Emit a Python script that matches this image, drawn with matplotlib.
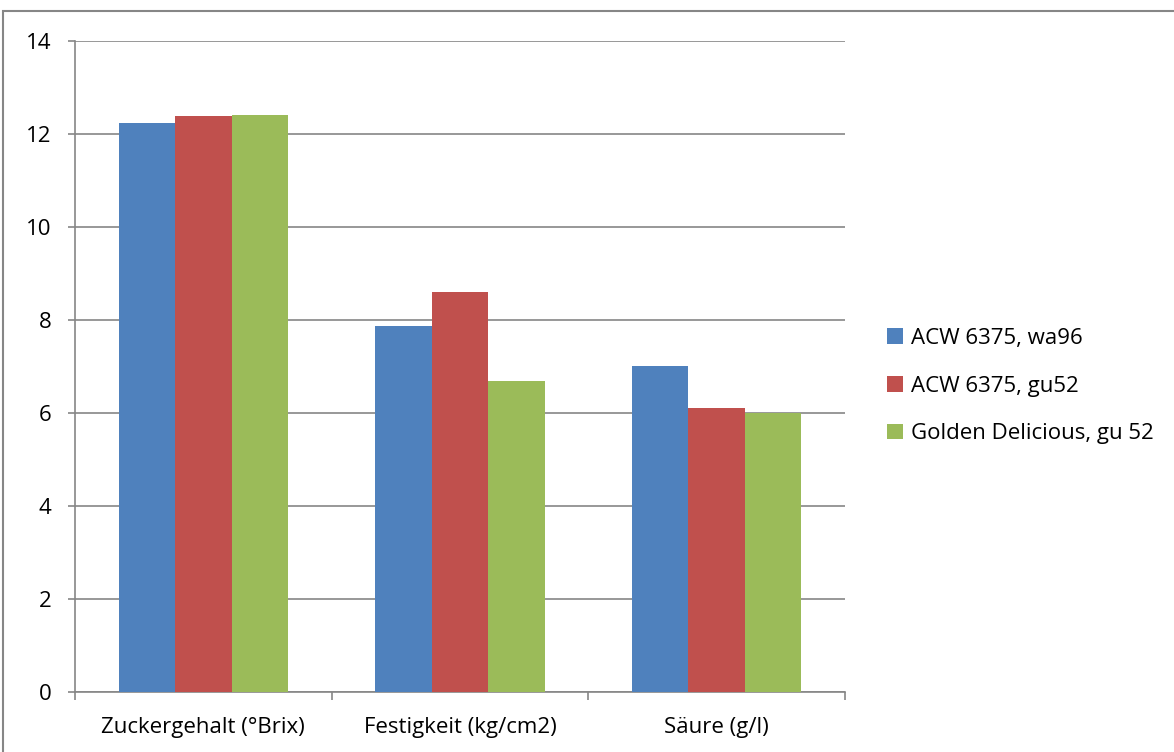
import numpy as np
import matplotlib.pyplot as plt
from matplotlib.patches import Rectangle

plt.rcParams['font.family'] = ['Open Sans', 'DejaVu Sans']

categories = ['Zuckergehalt (°Brix)', 'Festigkeit (kg/cm2)', 'Säure (g/l)']
series_names = ['ACW 6375, wa96', 'ACW 6375, gu52', 'Golden Delicious, gu 52']
wa96 = [12.24, 7.87, 7.01]
gu52 = [12.39, 8.60, 6.10]
golden = [12.40, 6.68, 6.00]
colors = ['#4F81BD', '#C0504D', '#9BBB59']

grid_col = '#868686'
fs = 16

fig = plt.figure(figsize=(11.74, 7.52), dpi=100)
ax = fig.add_axes([75 / 1174, 0.0798, 770 / 1174, 0.8657])

x = np.arange(len(categories))
w = 0.22
for i, (vals, name, c) in enumerate(zip([wa96, gu52, golden], series_names, colors)):
    ax.bar(x + (i - 1) * w, vals, width=w, color=c, label=name, zorder=3)

ax.set_xlim(-0.5, 2.5)
ax.set_ylim(0, 14)
ax.set_yticks(range(0, 15, 2))
ax.yaxis.grid(True, color=grid_col, linewidth=1.2, zorder=0)

for s in ['top', 'right']:
    ax.spines[s].set_visible(False)
for s in ['left', 'bottom']:
    ax.spines[s].set_color(grid_col)
    ax.spines[s].set_linewidth(1.2)

ax.set_xticks(x)
ax.set_xticklabels(categories)
ax.set_xticks([-0.5, 0.5, 1.5, 2.5], minor=True)
ax.tick_params(axis='x', which='major', length=0, pad=18, labelsize=fs)
ax.tick_params(axis='x', which='minor', length=6, width=1.2, color=grid_col)
ax.tick_params(axis='y', length=5, width=1.2, color=grid_col, pad=12, labelsize=fs)

ax.legend(loc='center left', bbox_to_anchor=(1.0, 0.47), frameon=False,
          fontsize=fs, handlelength=0.7, handleheight=0.7,
          handletextpad=0.35, labelspacing=1.2, borderaxespad=1.5)

# outer chart border
fig.patches.append(Rectangle((3 / 1174, -0.1), 1.2, 1 - 11 / 752 + 0.1,
                             transform=fig.transFigure, fill=False,
                             edgecolor=grid_col, linewidth=1.5))

fig.savefig('out.png', dpi=100)
